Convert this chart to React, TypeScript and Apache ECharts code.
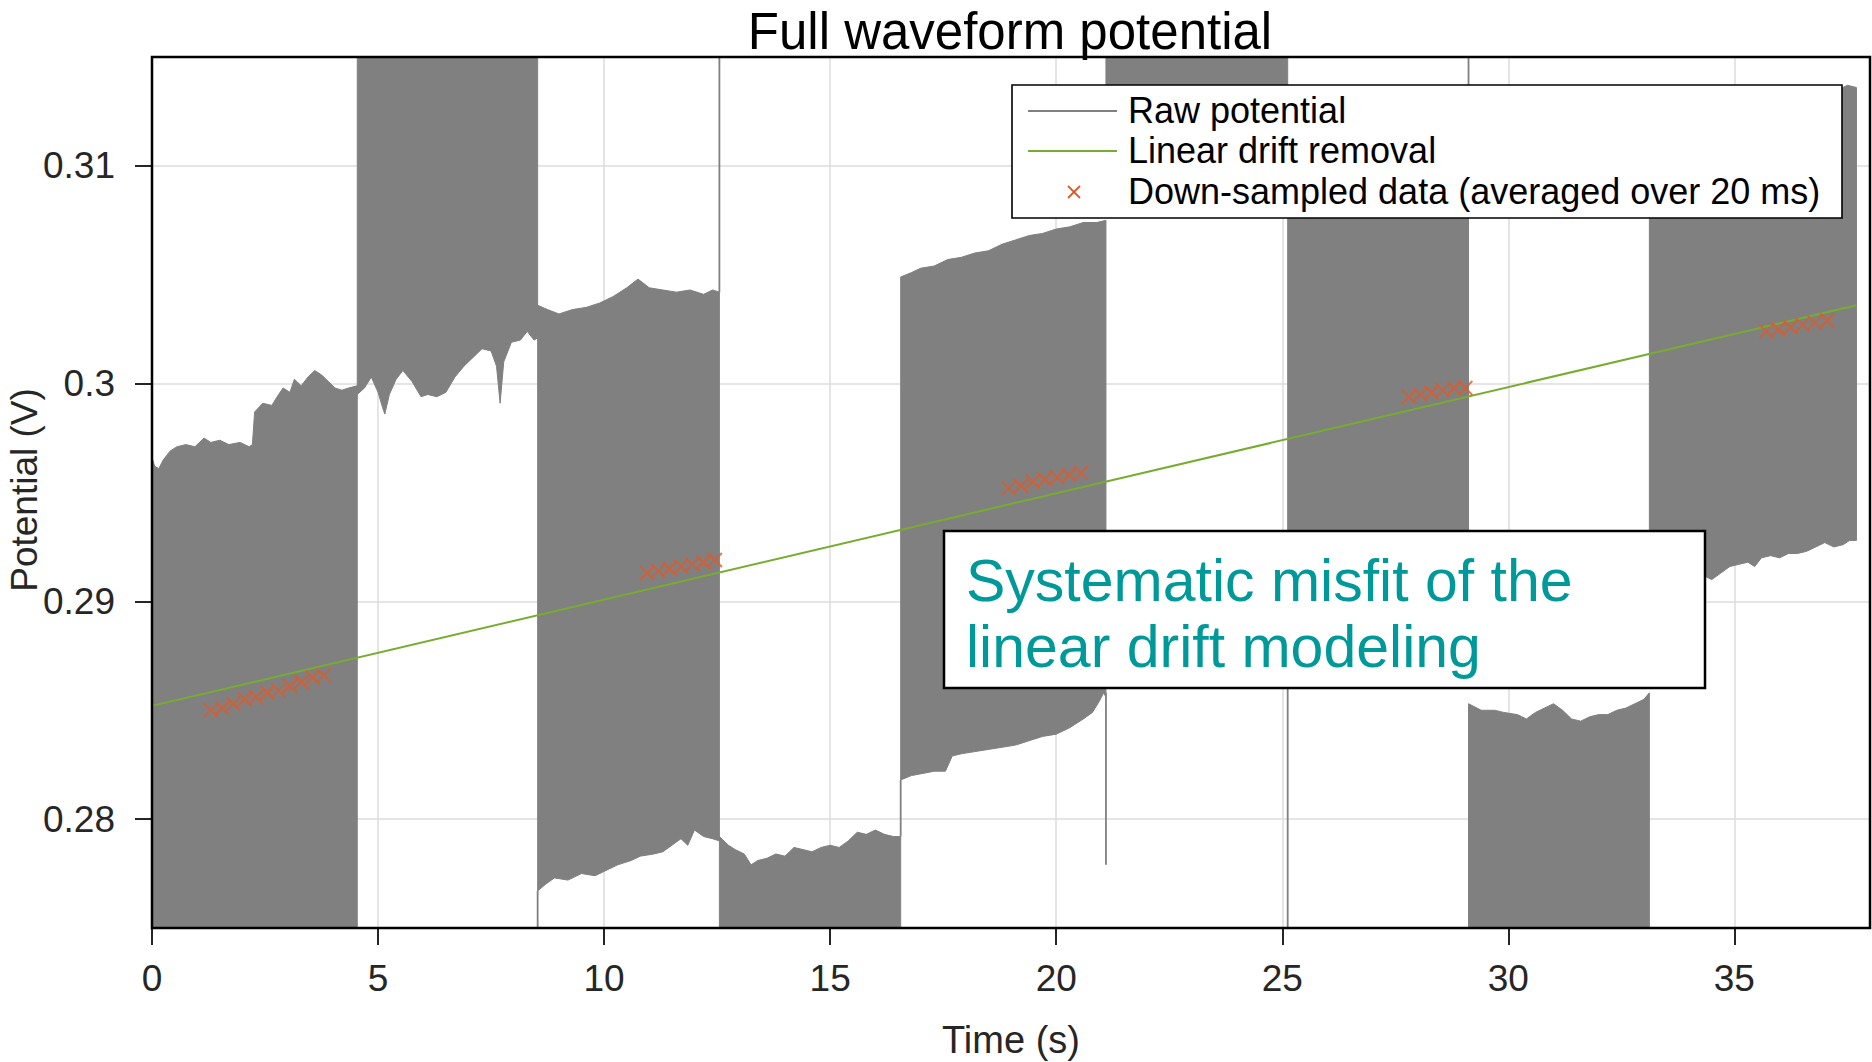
import React, { useEffect, useRef } from 'react';
import * as echarts from 'echarts';

const FONT = 'Liberation Sans, Arial, sans-serif';

// Axis ticks
const xTickValues = [0, 5, 10, 15, 20, 25, 30, 35];
const yTickValues = [0.28, 0.29, 0.3, 0.31];
const yTickLabels = ['0.28', '0.29', '0.3', '0.31'];

// Raw potential: envelopes (upper / lower) of the rapidly oscillating signal, per time block [t (s), V]
const seg1Upper = [[0, 0.2966], [0.06, 0.2962], [0.15, 0.2961], [0.25, 0.2965], [0.4, 0.2969], [0.55, 0.2971], [0.75, 0.2972], [0.95, 0.2971], [1.15, 0.2975], [1.3, 0.2973], [1.5, 0.2974], [1.7, 0.2972], [1.95, 0.2973], [2.15, 0.2971], [2.22, 0.2972], [2.27, 0.2987], [2.45, 0.2991], [2.65, 0.299], [2.8, 0.2995], [2.9, 0.2998], [3.05, 0.2996], [3.15, 0.3002], [3.3, 0.2999], [3.45, 0.3003], [3.6, 0.3006], [3.75, 0.3004], [3.9, 0.3001], [4.05, 0.2998], [4.2, 0.2997], [4.35, 0.2998], [4.54, 0.2999]];
const seg1Lower = [[0, 0.2725], [4.54, 0.2725]];

const seg2Upper = [[4.54, 0.3185], [8.53, 0.3185]];
const seg2Lower = [[4.54, 0.2995], [4.7, 0.2998], [4.85, 0.3003], [5.0, 0.2996], [5.1, 0.2989], [5.15, 0.2986], [5.25, 0.2995], [5.4, 0.3002], [5.55, 0.3006], [5.75, 0.3001], [5.95, 0.2994], [6.1, 0.2995], [6.3, 0.2994], [6.5, 0.2996], [6.7, 0.3003], [6.9, 0.3008], [7.1, 0.3012], [7.3, 0.3016], [7.5, 0.3015], [7.62, 0.3008], [7.7, 0.2991], [7.78, 0.301], [7.95, 0.3019], [8.15, 0.302], [8.3, 0.3024], [8.45, 0.302], [8.53, 0.3021]];

const seg3Upper = [[8.53, 0.3036], [8.75, 0.3034], [9.0, 0.3032], [9.3, 0.3034], [9.6, 0.3035], [9.9, 0.3037], [10.2, 0.304], [10.5, 0.3044], [10.75, 0.3048], [11.0, 0.3044], [11.3, 0.3043], [11.6, 0.3042], [11.9, 0.3043], [12.2, 0.3041], [12.4, 0.3043], [12.55, 0.3042]];
const seg3Lower = [[8.53, 0.2767], [8.7, 0.277], [8.9, 0.2773], [9.2, 0.2772], [9.5, 0.2775], [9.8, 0.2774], [10.1, 0.2777], [10.3, 0.2779], [10.6, 0.2781], [10.8, 0.2783], [11.1, 0.2784], [11.3, 0.2785], [11.5, 0.2788], [11.7, 0.2791], [11.85, 0.2788], [12.0, 0.2795], [12.2, 0.2792], [12.4, 0.2791], [12.55, 0.279]];

const seg4Upper = [[12.55, 0.2792], [12.75, 0.2788], [12.9, 0.2786], [13.1, 0.2784], [13.25, 0.2779], [13.4, 0.2781], [13.6, 0.2782], [13.8, 0.2784], [14.0, 0.2783], [14.2, 0.2787], [14.4, 0.2786], [14.6, 0.2785], [14.8, 0.2787], [15.0, 0.2788], [15.2, 0.2787], [15.4, 0.279], [15.6, 0.2794], [15.8, 0.2793], [16.0, 0.2795], [16.2, 0.2793], [16.4, 0.2792], [16.56, 0.2792]];
const seg4Lower = [[12.55, 0.2725], [16.56, 0.2725]];

const seg5Upper = [[16.56, 0.3049], [16.8, 0.3051], [17.0, 0.3053], [17.3, 0.3054], [17.6, 0.3057], [17.9, 0.3058], [18.2, 0.306], [18.5, 0.3061], [18.8, 0.3064], [19.1, 0.3066], [19.4, 0.3068], [19.7, 0.3069], [20.0, 0.3071], [20.3, 0.3072], [20.6, 0.3074], [20.9, 0.3074], [21.1, 0.3075]];
const seg5Lower = [[16.56, 0.2818], [16.8, 0.282], [17.05, 0.2821], [17.3, 0.2822], [17.55, 0.2822], [17.7, 0.2829], [17.9, 0.283], [18.2, 0.2831], [18.5, 0.2832], [18.8, 0.2833], [19.1, 0.2834], [19.4, 0.2836], [19.7, 0.2838], [20.0, 0.2839], [20.3, 0.2842], [20.6, 0.2846], [20.8, 0.2849], [20.95, 0.2854], [21.05, 0.2858], [21.1, 0.2856]];

const seg6Upper = [[21.1, 0.3185], [25.12, 0.3185]];
const seg6Lower = [[21.1, 0.3086], [23.0, 0.3087], [25.12, 0.3088]];

const seg7Upper = [[25.12, 0.3124], [27.0, 0.3126], [29.12, 0.3128]];
const seg7Lower = [[25.12, 0.2868], [27.0, 0.2869], [29.12, 0.287]];

const seg8Upper = [[29.12, 0.2853], [29.4, 0.285], [29.7, 0.285], [29.9, 0.2849], [30.2, 0.2848], [30.4, 0.2846], [30.6, 0.2849], [30.8, 0.2851], [31.0, 0.2853], [31.2, 0.285], [31.4, 0.2846], [31.6, 0.2845], [31.8, 0.2847], [32.0, 0.2848], [32.2, 0.2848], [32.4, 0.285], [32.6, 0.2851], [32.8, 0.2853], [33.0, 0.2855], [33.12, 0.2858]];
const seg8Lower = [[29.12, 0.2725], [33.12, 0.2725]];

const seg9Upper = [[33.12, 0.3132], [35.5, 0.3134], [37.3, 0.3135], [37.5, 0.3137], [37.7, 0.3136]];
const seg9Lower = [[33.12, 0.2905], [33.5, 0.2908], [33.8, 0.291], [34.1, 0.2911], [34.3, 0.2912], [34.5, 0.291], [34.7, 0.2913], [34.9, 0.2916], [35.1, 0.2917], [35.3, 0.2918], [35.45, 0.2916], [35.6, 0.292], [35.8, 0.2921], [36.0, 0.292], [36.2, 0.2922], [36.4, 0.2922], [36.6, 0.2923], [36.8, 0.2925], [37.0, 0.2927], [37.2, 0.2925], [37.4, 0.2926], [37.55, 0.2928], [37.7, 0.2928]];

// Thin switching transients of the raw signal
const spikeT = [8.53, 12.55, 16.56, 21.1, 25.12, 29.12];
const spikeLow = [0.2725, 0.3042, 0.2792, 0.2779, 0.2725, 0.3128];
const spikeHigh = [0.2767, 0.3185, 0.2818, 0.2858, 0.2868, 0.3185];

// Linear drift removal
const driftT = [0, 37.7];
const driftV = [0.2852, 0.3036];

// Down-sampled data (averaged over 20 ms)
const dsT = [1.3, 1.55, 1.8, 2.05, 2.3, 2.55, 2.8, 3.05, 3.3, 3.55, 3.8,
  10.95, 11.2, 11.45, 11.7, 11.95, 12.2, 12.45,
  18.95, 19.22, 19.48, 19.75, 20.02, 20.28, 20.55,
  27.8, 28.05, 28.3, 28.55, 28.8, 29.05,
  35.7, 35.97, 36.24, 36.51, 36.78, 37.05];
const dsV = [0.285, 0.2851, 0.2853, 0.2855, 0.2856, 0.2858, 0.2859, 0.2861, 0.2863, 0.2865, 0.2866,
  0.2913, 0.2914, 0.2915, 0.2916, 0.2917, 0.2918, 0.2919,
  0.2952, 0.2953, 0.2955, 0.2956, 0.2957, 0.2958, 0.2959,
  0.2994, 0.2995, 0.2996, 0.2997, 0.2998, 0.2998,
  0.3024, 0.3025, 0.3026, 0.3027, 0.3028, 0.3029];

const rawBands = [
  [seg1Upper, seg1Lower], [seg2Upper, seg2Lower], [seg3Upper, seg3Lower],
  [seg4Upper, seg4Lower], [seg5Upper, seg5Lower], [seg6Upper, seg6Lower],
  [seg7Upper, seg7Lower], [seg8Upper, seg8Lower], [seg9Upper, seg9Lower],
];

const annotationLines = ['Systematic misfit of the', 'linear drift modeling'];

const GRAY = '#808080';
const GREEN = '#77AC30';
const ORANGE = '#DD5A2B';
const TEXT = '#262626';

const CROSS = 'path://M0,0L10,10M10,0L0,10';

function buildOption(): any {
  const gl = 152, gt = 57, gw = 1718, gh = 871;
  return {
    animation: false,
    backgroundColor: '#ffffff',
    grid: { left: gl, top: gt, width: gw, height: gh, containLabel: false, outerBoundsMode: 'none' },
    xAxis: {
      type: 'value', min: 0, max: 38,
      axisLine: { show: false },
      axisTick: { show: true, inside: false, length: 17, customValues: xTickValues, lineStyle: { color: TEXT, width: 2 } },
      axisLabel: { customValues: xTickValues, margin: 32, fontSize: 37, color: TEXT, fontFamily: FONT },
      splitLine: { show: true, lineStyle: { color: '#dddddd', width: 1.5 } },
    },
    yAxis: {
      type: 'value', min: 0.275, max: 0.315,
      axisLine: { show: false },
      axisTick: { show: true, inside: false, length: 17, customValues: yTickValues, lineStyle: { color: TEXT, width: 2 } },
      axisLabel: {
        customValues: yTickValues, margin: 37, fontSize: 37, color: TEXT, fontFamily: FONT,
        formatter: (v: number) => {
          const i = yTickValues.findIndex((t) => Math.abs(t - v) < 1e-9);
          return i >= 0 ? yTickLabels[i] : '';
        },
      },
      splitLine: { show: true, lineStyle: { color: '#dddddd', width: 1.5 } },
    },
    series: [
      {
        type: 'custom',
        name: 'Raw potential',
        clip: true,
        z: 2,
        data: rawBands.map((b) => [b[0][0][0], b[0][0][1]]),
        renderItem: (params: any, api: any) => {
          const band = rawBands[params.dataIndex];
          const up = band[0].map((p) => api.coord(p));
          const lo = band[1].slice().reverse().map((p) => api.coord(p));
          return {
            type: 'polygon',
            shape: { points: up.concat(lo) },
            style: { fill: GRAY, stroke: GRAY, lineWidth: 1 },
          };
        },
      },
      {
        type: 'custom',
        name: 'Raw potential transients',
        clip: true,
        z: 2,
        data: spikeT.map((t, i) => [t, spikeLow[i], spikeHigh[i]]),
        renderItem: (params: any, api: any) => {
          const i = params.dataIndex;
          const a = api.coord([spikeT[i], spikeLow[i]]);
          const b = api.coord([spikeT[i], spikeHigh[i]]);
          return {
            type: 'line',
            shape: { x1: a[0], y1: a[1], x2: b[0], y2: b[1] },
            style: { stroke: GRAY, lineWidth: 1.8 },
          };
        },
      },
      {
        type: 'line',
        name: 'Linear drift removal',
        data: driftT.map((t, i) => [t, driftV[i]]),
        showSymbol: false,
        symbol: 'none',
        z: 3,
        lineStyle: { color: GREEN, width: 2 },
      },
      {
        type: 'scatter',
        name: 'Down-sampled data (averaged over 20 ms)',
        data: dsT.map((t, i) => [t, dsV[i]]),
        symbol: CROSS,
        symbolSize: 14,
        z: 4,
        itemStyle: { color: 'rgba(0,0,0,0)', borderColor: ORANGE, borderWidth: 2 },
      },
    ],
    graphic: [
      // axes box
      { type: 'rect', z: 50, shape: { x: gl, y: gt, width: gw, height: gh }, style: { fill: 'none', stroke: '#000', lineWidth: 2.5 } },
      // title
      { type: 'text', z: 60, x: 1010, y: 31, style: { text: 'Full waveform potential', fontSize: 51, fontFamily: FONT, fill: '#000', align: 'center', verticalAlign: 'middle' } },
      // axis names
      { type: 'text', z: 60, x: 1011, y: 1040, style: { text: 'Time (s)', fontSize: 38, fontFamily: FONT, fill: TEXT, align: 'center', verticalAlign: 'middle' } },
      { type: 'text', z: 60, x: 24, y: 490, rotation: Math.PI / 2, style: { text: 'Potential (V)', fontSize: 37, fontFamily: FONT, fill: TEXT, align: 'center', verticalAlign: 'middle' } },
      // legend
      { type: 'rect', z: 70, shape: { x: 1012, y: 85, width: 830, height: 133 }, style: { fill: '#fff', stroke: '#000', lineWidth: 1.6 } },
      { type: 'line', z: 71, shape: { x1: 1028, y1: 111, x2: 1117, y2: 111 }, style: { stroke: GRAY, lineWidth: 2 } },
      { type: 'line', z: 71, shape: { x1: 1028, y1: 151, x2: 1117, y2: 151 }, style: { stroke: GREEN, lineWidth: 2 } },
      { type: 'line', z: 71, shape: { x1: 1068, y1: 186, x2: 1080, y2: 198 }, style: { stroke: ORANGE, lineWidth: 1.8 } },
      { type: 'line', z: 71, shape: { x1: 1080, y1: 186, x2: 1068, y2: 198 }, style: { stroke: ORANGE, lineWidth: 1.8 } },
      { type: 'text', z: 71, x: 1128, y: 110.5, style: { text: 'Raw potential', fontSize: 36, fontFamily: FONT, fill: '#000', align: 'left', verticalAlign: 'middle' } },
      { type: 'text', z: 71, x: 1128, y: 150.5, style: { text: 'Linear drift removal', fontSize: 36, fontFamily: FONT, fill: '#000', align: 'left', verticalAlign: 'middle' } },
      { type: 'text', z: 71, x: 1128, y: 191.5, style: { text: 'Down-sampled data (averaged over 20 ms)', fontSize: 36, fontFamily: FONT, fill: '#000', align: 'left', verticalAlign: 'middle' } },
      // annotation
      { type: 'rect', z: 80, shape: { x: 944, y: 531, width: 761, height: 157 }, style: { fill: '#fff', stroke: '#000', lineWidth: 2.5 } },
      { type: 'text', z: 81, x: 966, y: 580.5, style: { text: annotationLines[0], fontSize: 59, fontFamily: FONT, fill: '#009999', align: 'left', verticalAlign: 'middle' } },
      { type: 'text', z: 81, x: 966, y: 646.5, style: { text: annotationLines[1], fontSize: 59, fontFamily: FONT, fill: '#009999', align: 'left', verticalAlign: 'middle' } },
    ],
  };
}

export default function App() {
  const ref = useRef<HTMLDivElement>(null);
  useEffect(() => {
    if (!ref.current) return;
    const chart = echarts.init(ref.current, undefined, { renderer: 'svg' });
    chart.setOption(buildOption());
    return () => chart.dispose();
  }, []);
  return (
    <div
      ref={ref}
      style={{ position: 'absolute', left: 0, top: 0, width: 1872, height: 1062, background: '#fff' }}
    />
  );
}
